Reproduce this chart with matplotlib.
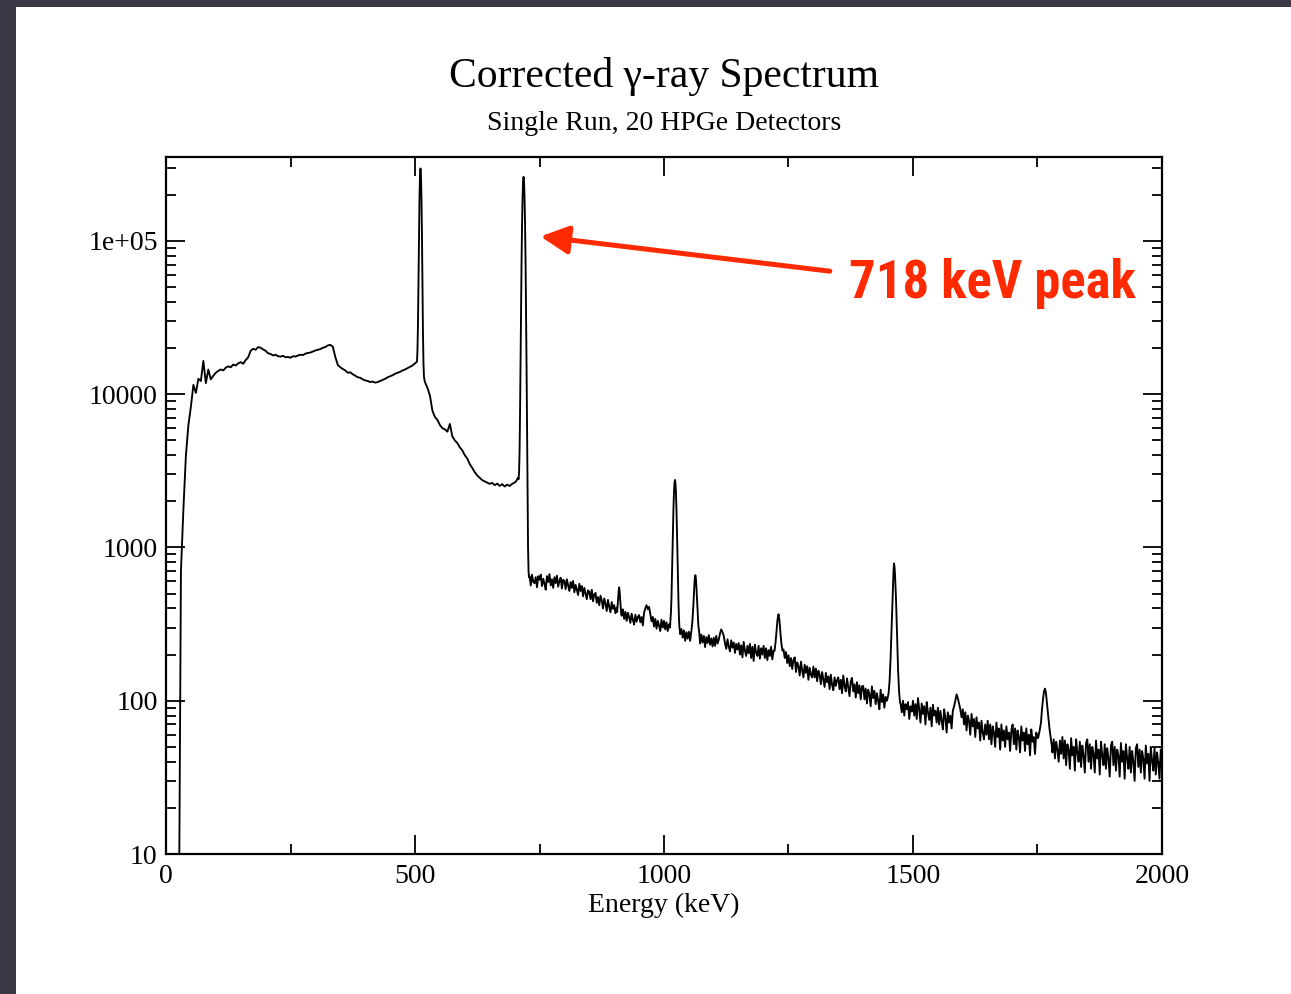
import numpy as np
import matplotlib
matplotlib.use("Agg")
import matplotlib.pyplot as plt
from matplotlib.patches import Rectangle
from matplotlib.ticker import MultipleLocator, LogLocator, NullFormatter

# ---------------------------------------------------------------------------
# Spectrum data
# ---------------------------------------------------------------------------
# Low-energy continuum, 5 keV grid from 0 to 725 keV (one row = 50 keV)
low_start_kev, low_step_kev = 0.0, 5.0
low_counts = [
    1, 1, 1, 1, 1, 1, 700, 1800, 4000, 6300,                                  # 0-45
    8300, 11500, 10200, 12600, 12200, 16500, 11800, 14500, 12500, 13200,      # 50-95
    13800, 14200, 14500, 14300, 14900, 15200, 15000, 15600, 15400, 15900,     # 100-145
    16200, 15800, 16700, 17400, 19200, 19800, 19500, 20300, 20100, 19600,     # 150-195
    19200, 18500, 18300, 17900, 18100, 17700, 17600, 17800, 17400, 17500,     # 200-245
    17300, 17700, 17600, 17900, 18100, 18000, 18400, 18600, 18700, 19000,     # 250-295
    19300, 19500, 19700, 20100, 20300, 20800, 21000, 20400, 17500, 15500,     # 300-345
    15000, 14600, 14300, 13800, 13900, 13500, 13200, 12900, 12800, 12500,     # 350-395
    12300, 12200, 12000, 12100, 11900, 12000, 12200, 12400, 12600, 12900,     # 400-445
    13100, 13300, 13600, 13800, 14000, 14300, 14500, 14800, 15100, 15400,     # 450-495
    15900, 16500, 14000, 13000, 12000, 11000, 9800, 7800, 7100, 6800,         # 500-545
    6300, 6000, 5900, 5700, 6400, 5300, 5000, 4800, 4500, 4300,               # 550-595
    4000, 3800, 3500, 3300, 3100, 2950, 2850, 2750, 2700, 2650,               # 600-645
    2600, 2640, 2550, 2610, 2520, 2590, 2500, 2570, 2520, 2600,               # 650-695
    2650, 2750, 2900, 700, 650, 640,                                          # 700-725
]

# High-energy continuum, 2.5 keV grid from 730 to 2000 keV (one row = 50 keV)
high_start_kev, high_step_kev = 730.0, 2.5
high_counts = [
    650, 565, 665, 595, 585, 640, 550, 650,                                                      # 730-747.5
    615, 665, 560, 625, 580, 530, 650, 595, 670, 565, 620, 545, 640, 585, 655, 555, 605, 635, 540, 615,   # 750
    605, 535, 620, 565, 520, 595, 545, 605, 510, 570, 530, 490, 580, 520, 560, 480, 545, 500, 460, 525,   # 800
    515, 460, 530, 445, 495, 505, 435, 475, 420, 485, 450, 400, 465, 430, 385, 455, 410, 378, 440, 398,   # 850
    420, 372, 405, 385, 400, 410, 358, 395, 342, 380, 332, 375, 350, 322, 370, 338, 314, 365, 328, 352,   # 900
    362, 325, 352, 310, 375, 400, 420, 395, 410, 368, 330, 352, 305, 342, 295, 332, 310, 285, 338, 300,   # 950
    332, 292, 325, 285, 315, 300, 300, 300, 300, 300, 300, 300, 300, 272, 294, 258, 288, 246, 280, 254,   # 1000
    282, 246, 270, 270, 270, 270, 270, 270, 270, 236, 270, 240, 265, 224, 260, 238, 268, 232, 255, 226,   # 1050
    258, 228, 265, 236, 250, 275, 292, 280, 265, 236, 218, 252, 226, 210, 248, 222, 240, 205, 235, 216,   # 1100
    238, 200, 230, 192, 242, 212, 196, 228, 204, 235, 190, 225, 182, 232, 206, 196, 228, 188, 220, 200,   # 1150
    228, 190, 220, 184, 214, 196, 225, 186, 212, 210, 210, 210, 210, 210, 210, 210, 216, 190, 208, 176,   # 1200
    198, 168, 190, 161, 185, 192, 154, 178, 168, 146, 180, 158, 142, 172, 152, 168, 137, 164, 148, 142,   # 1250
    167, 142, 162, 134, 157, 148, 128, 154, 137, 123, 152, 132, 144, 119, 148, 127, 117, 142, 125, 136,   # 1300
    142, 119, 137, 112, 146, 125, 115, 140, 122, 107, 134, 141, 115, 128, 105, 132, 112, 126, 102, 124,   # 1350
    125, 102, 120, 96, 118, 110, 92, 124, 104, 116, 95, 112, 100, 88, 118, 98, 110, 90, 106, 100,         # 1400
    105, 105, 105, 105, 105, 105, 105, 105, 105, 105, 96, 84, 100, 80, 95, 88, 98, 76, 92, 85,            # 1450
    100, 80, 95, 76, 104, 88, 72, 96, 82, 92, 70, 98, 84, 75, 90, 68, 94, 80, 86, 72,                    # 1500
    90, 70, 86, 74, 65, 88, 78, 62, 84, 72, 80, 66, 86, 92, 100, 110, 104, 96, 88, 78,                   # 1550
    88, 70, 84, 64, 80, 74, 60, 82, 68, 76, 58, 78, 66, 72, 55, 74, 62, 56, 70, 60,                      # 1600
    74, 56, 70, 52, 68, 62, 50, 72, 58, 66, 48, 70, 55, 64, 50, 68, 56, 62, 47, 64,                      # 1650
    70, 52, 66, 48, 64, 58, 46, 68, 55, 62, 47, 66, 52, 60, 44, 65, 54, 58, 45, 62,                      # 1700
    58, 60, 60, 60, 60, 60, 60, 60, 60, 60, 60, 60, 46, 56, 42, 54, 48, 40, 55, 45,                      # 1750
    58, 42, 55, 38, 52, 48, 36, 57, 44, 50, 35, 56, 46, 40, 54, 37, 51, 44, 34, 53,                      # 1800
    56, 40, 52, 36, 50, 45, 34, 55, 42, 48, 33, 54, 44, 38, 52, 36, 49, 42, 32, 51,                      # 1850
    54, 38, 50, 35, 48, 44, 32, 53, 40, 47, 31, 52, 42, 36, 50, 34, 47, 40, 30, 49,                      # 1900
    52, 37, 48, 34, 47, 42, 31, 51, 39, 45, 30, 50, 41, 35, 49, 33, 46, 39, 31, 48,                      # 1950
    44,                                                                                                  # 2000
]

# Photopeaks, sampled channel by channel (keV, counts)
peak_511_kev = [504, 505, 506, 507, 508, 509, 510, 511, 512, 513, 514, 515, 516, 517, 518, 519]
peak_511_counts = [16300, 19500, 29000, 55000, 108000, 190000, 265000, 297000,
                   265000, 190000, 108000, 52000, 25000, 16000, 13000, 12400]

peak_718_kev = [703, 705, 707, 708, 709, 710, 711, 712, 713, 714, 715, 716, 717,
                718, 719, 720, 721, 722, 723, 724, 725, 726, 727, 728, 729]
peak_718_counts = [2700, 2780, 2850, 2790, 3100, 4270, 7900, 17400, 37700, 75700,
                   130700, 192700, 244700, 262000, 242600, 190600, 128600, 73600,
                   35600, 15300, 5800, 2200, 1000, 700, 640]

peak_910_kev = [906, 907, 908, 909, 910, 911, 912, 913, 914]
peak_910_counts = [380, 420, 470, 520, 550, 510, 460, 410, 370]

peak_1022_kev = [1012, 1013, 1014, 1015, 1016, 1017, 1018, 1019, 1020, 1021, 1022,
                 1023, 1024, 1025, 1026, 1027, 1028, 1029, 1030, 1031, 1032]
peak_1022_counts = [300, 337, 380, 470, 640, 920, 1315, 1800, 2270, 2630, 2760,
                    2630, 2270, 1800, 1315, 920, 640, 450, 350, 300, 285]

peak_1063_kev = [1055, 1057, 1059, 1060, 1061, 1062, 1063, 1064, 1065, 1066, 1067, 1069, 1071]
peak_1063_counts = [285, 330, 420, 490, 570, 640, 660, 630, 560, 480, 400, 310, 275]

peak_1230_kev = [1222, 1224, 1226, 1228, 1230, 1232, 1234, 1236, 1238]
peak_1230_counts = [212, 240, 285, 340, 367, 330, 272, 232, 212]

peak_1462_kev = [1449, 1451, 1453, 1455, 1457, 1459, 1460, 1461, 1462, 1463,
                 1464, 1466, 1468, 1470, 1472, 1474]
peak_1462_counts = [104, 112, 135, 190, 300, 480, 600, 720, 787, 740,
                    650, 450, 270, 160, 115, 97]

peak_1765_kev = [1751, 1754, 1757, 1759, 1761, 1763, 1765, 1767, 1769, 1771, 1774, 1777, 1779]
peak_1765_counts = [57, 63, 72, 88, 102, 115, 120, 112, 96, 82, 66, 56, 50]

peaks = [
    (peak_511_kev, peak_511_counts),
    (peak_718_kev, peak_718_counts),
    (peak_910_kev, peak_910_counts),
    (peak_1022_kev, peak_1022_counts),
    (peak_1063_kev, peak_1063_counts),
    (peak_1230_kev, peak_1230_counts),
    (peak_1462_kev, peak_1462_counts),
    (peak_1765_kev, peak_1765_counts),
]

title_text = "Corrected \u03b3-ray Spectrum"
subtitle_text = "Single Run, 20 HPGe Detectors"
xlabel_text = "Energy (keV)"
annotation_text = "718 keV peak"
xtick_values = [0, 500, 1000, 1500, 2000]
ytick_values = [10, 100, 1000, 10000, 100000]
ytick_labels = ["10", "100", "1000", "10000", "1e+05"]

# ---------------------------------------------------------------------------
# Merge continuum and peak samples into one spectrum
# ---------------------------------------------------------------------------
energy = np.concatenate([
    low_start_kev + np.arange(len(low_counts)) * low_step_kev,
    high_start_kev + np.arange(len(high_counts)) * high_step_kev,
])
counts = np.concatenate([np.asarray(low_counts, float), np.asarray(high_counts, float)])
for pk_e, pk_c in peaks:
    keep = (energy < pk_e[0]) | (energy > pk_e[-1])
    energy = np.concatenate([energy[keep], np.asarray(pk_e, float)])
    counts = np.concatenate([counts[keep], np.asarray(pk_c, float)])
order = np.argsort(energy, kind="stable")
energy, counts = energy[order], counts[order]

# ---------------------------------------------------------------------------
# Figure
# ---------------------------------------------------------------------------
W, H = 1291, 994
serif = ["Liberation Serif", "DejaVu Serif"]
fig = plt.figure(figsize=(W / 100, H / 100), dpi=100)
fig.patch.set_facecolor("#3a3a46")
fig.add_artist(Rectangle((16 / W, 0), 1 - 16 / W, 1 - 7 / H,
                         transform=fig.transFigure, facecolor="white",
                         edgecolor="none", zorder=0))

ax_l, ax_r, ax_t, ax_b = 166, 1162, 157, 854
ax = fig.add_axes([ax_l / W, 1 - ax_b / H, (ax_r - ax_l) / W, (ax_b - ax_t) / H])
ax.set_facecolor("white")

ax.plot(energy, counts, color="black", lw=1.35, solid_joinstyle="round")
ax.set_yscale("log")
ax.set_xlim(0, 2000)
ax.set_ylim(10, 3.53e5)

ax.set_xticks(xtick_values)
ax.set_xticklabels([str(v) for v in xtick_values])
ax.xaxis.set_minor_locator(MultipleLocator(250))
ax.set_yticks(ytick_values)
ax.set_yticklabels(ytick_labels)
ax.yaxis.set_minor_locator(LogLocator(base=10, subs=np.arange(2, 10)))
ax.yaxis.set_minor_formatter(NullFormatter())

ax.tick_params(which="both", direction="in", top=True, right=True,
               labelsize=20, width=1.3, color="black")
ax.tick_params(which="major", length=14)
ax.tick_params(which="minor", length=7)
ax.tick_params(axis="y", pad=6)
ax.tick_params(axis="x", pad=7)
for lab in ax.get_xticklabels() + ax.get_yticklabels():
    lab.set_family(serif)
for sp in ax.spines.values():
    sp.set_linewidth(1.6)

cx = (ax_l + ax_r) / 2 / W
fig.text(cx, 1 - 76 / H, title_text, ha="center", va="center",
         fontsize=30, family=serif)
fig.text(cx, 1 - 123 / H, subtitle_text, ha="center", va="center",
         fontsize=20, family=serif)
fig.text(cx, 1 - 905 / H, xlabel_text, ha="center", va="center",
         fontsize=20, family=serif)

# Arrow pointing at the 718 keV line
red = "#ff2a00"
ax.annotate("", xy=(752, 1.07e5), xytext=(1333, 6.35e4),
            arrowprops=dict(arrowstyle="-|>,head_length=17,head_width=8.6",
                            mutation_scale=1, color=red, lw=3.6,
                            shrinkA=0, shrinkB=0))
fig.text(849 / W, 1 - 298 / H, annotation_text, ha="left", va="baseline",
         fontsize=38, fontweight="bold", color=red,
         family=["Roboto Condensed", "Liberation Sans Narrow", "Roboto", "DejaVu Sans"])

fig.savefig("out.png", dpi=100, facecolor=fig.get_facecolor())
